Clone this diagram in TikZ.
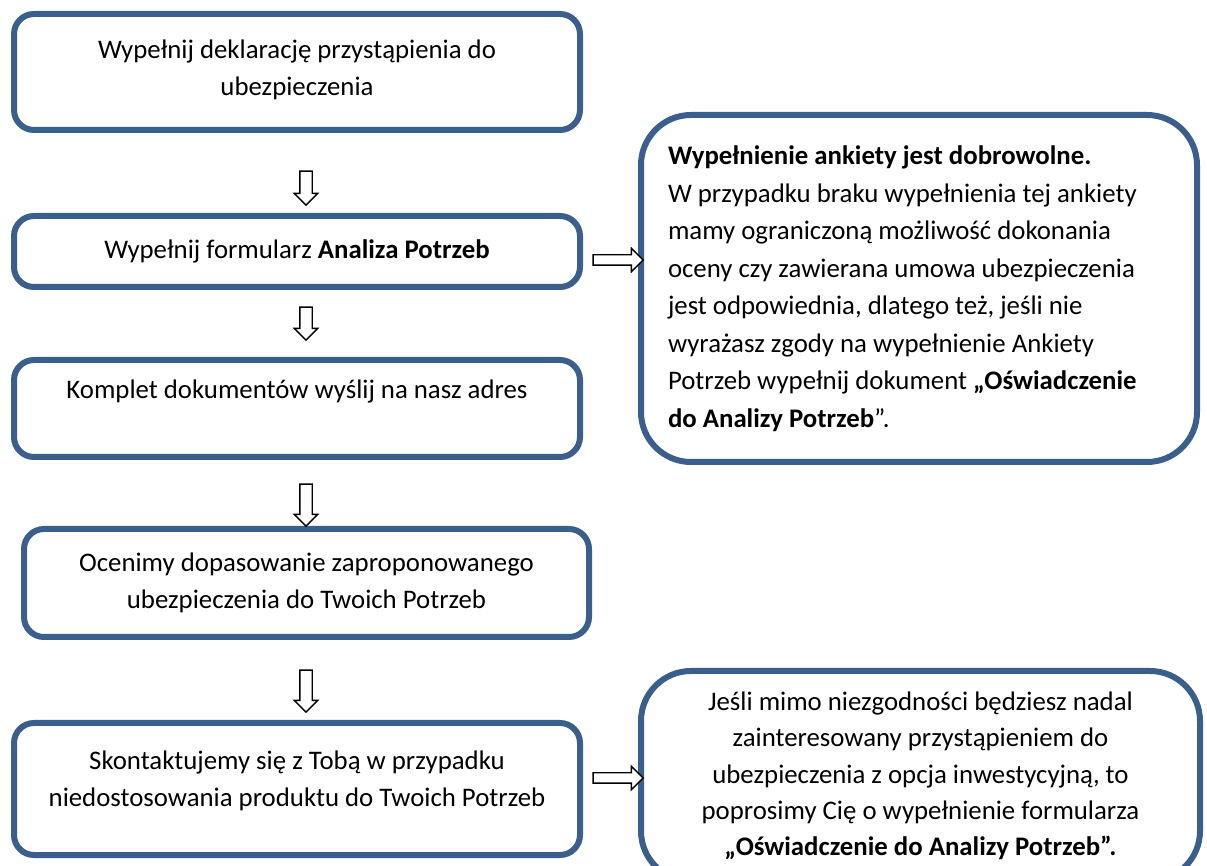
\documentclass[tikz,border=0pt]{standalone}
\usepackage{fontspec}
\setmainfont{Carlito}
\usepackage{tikz}
\usetikzlibrary{shapes.arrows}
\definecolor{ramka}{HTML}{3A5F8C}
\tikzstyle{krok} = [rectangle, rounded corners=10pt, minimum width=283pt, text centered, align=center, inner sep=0pt, draw=ramka, line width=3pt, fill=white]
\tikzstyle{uwaga} = [rectangle, rounded corners=25pt, inner sep=0pt, draw=ramka, line width=3pt, fill=white]
\tikzstyle{wdol} = [single arrow, draw=black, line width=0.7pt, fill=white, inner xsep=2.75pt, inner ysep=0pt, shape border rotate=270, minimum width=11pt, single arrow head extend=2.75pt]
\tikzstyle{wprawo} = [single arrow, draw=black, line width=0.7pt, fill=white, inner xsep=0pt, inner ysep=2.25pt, minimum height=25pt, minimum width=11pt, single arrow head extend=3.25pt]

\begin{document}
\begin{tikzpicture}[x=0.5pt,y=-0.5pt,font=\fontsize{13.4}{18.75}\selectfont]
	\useasboundingbox (0,0) rectangle (1207,866);
	%kroki po lewej stronie, uwagi po prawej
	\node (DEK) [krok, minimum height=58pt, text depth=4.5pt] at (297,72) {Wypełnij deklarację przystąpienia do\\ubezpieczenia};
	\node (ANA) [krok, minimum height=35.5pt] at (297,251.5) {Wypełnij formularz \textbf{Analiza Potrzeb}};
	\node (KOM) [krok, minimum height=48.5pt, text depth=19.5pt] at (297,408.5) {Komplet dokumentów wyślij na nasz adres};
	\node (OCE) [krok, minimum width=282.5pt, minimum height=54pt] at (306.5,583) {Ocenimy dopasowanie zaproponowanego\\ubezpieczenia do Twoich Potrzeb};
	\node (KON) [krok, minimum height=66pt, text depth=10.5pt] at (297,789) {Skontaktujemy się z Tobą w przypadku\\niedostosowania produktu do Twoich Potrzeb};
	\node (ANK) [uwaga, align=flush left, text width=251pt, inner xsep=13.5pt, minimum height=173.5pt] at (919,288.5) {\textbf{Wypełnienie ankiety jest dobrowolne.}\\W przypadku braku wypełnienia tej ankiety\\mamy ograniczoną możliwość dokonania\\oceny czy zawierana umowa ubezpieczenia\\jest odpowiednia, dlatego też, jeśli nie\\wyrażasz zgody na wypełnienie Ankiety\\Potrzeb wypełnij dokument \textbf{„Oświadczenie}\\\textbf{do Analizy Potrzeb}”.};
	\node (OSW) [uwaga, align=center, minimum width=279.5pt, minimum height=105pt, font=\fontsize{13.4}{18.1}\selectfont] at (920.5,776) {Jeśli mimo niezgodności będziesz nadal\\zainteresowany przystąpieniem do\\ubezpieczenia z opcja inwestycyjną, to\\poprosimy Cię o wypełnienie formularza\\\textbf{„Oświadczenie do Analizy Potrzeb”.}};
	\node (S1) [wdol, minimum height=17pt] at (306,185) {};
	\node (S2) [wdol, minimum height=16.5pt] at (306,320.5) {};
	\node (S3) [wdol, minimum height=21pt] at (306,502) {};
	\node (S4) [wdol, minimum height=21pt] at (306,688) {};
	\node (P1) [wprawo] at (615.5,260) {};
	\node (P2) [wprawo] at (615.5,778) {};
\end{tikzpicture}
\end{document}
